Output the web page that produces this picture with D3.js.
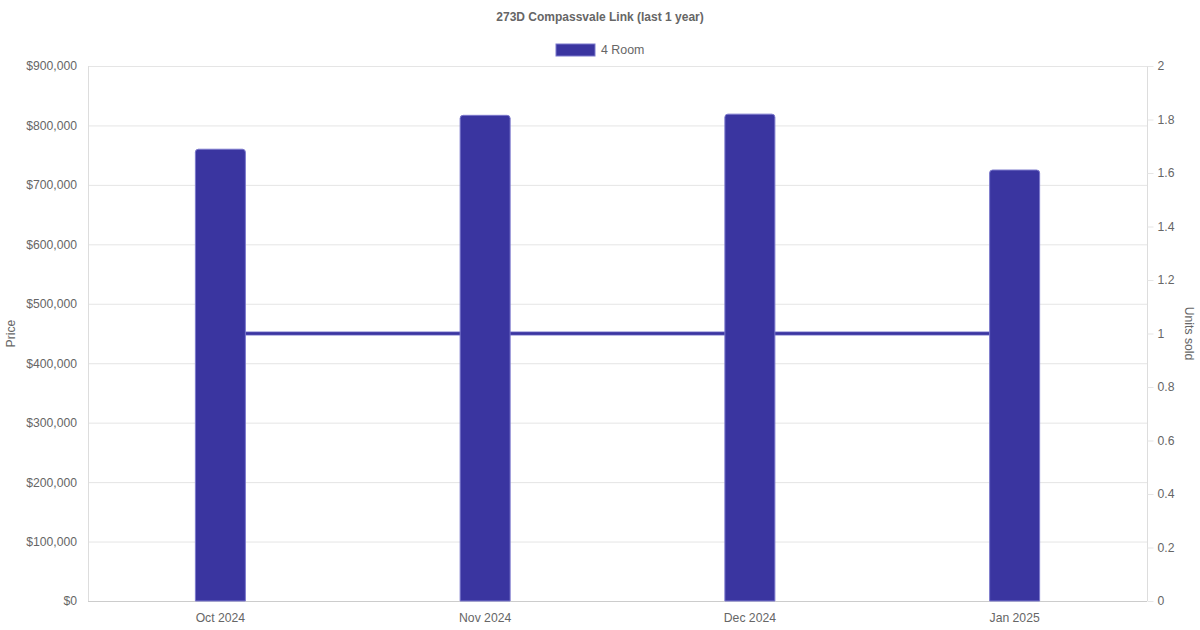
<!DOCTYPE html>
<html><head><meta charset="utf-8">
<script src="https://cdn.jsdelivr.net/npm/d3@7"></script>
<style>body{margin:0;background:#fff}svg{display:block;font-family:"Liberation Sans",Arial,sans-serif}</style>
</head><body>
<svg id="c" width="1200" height="630"></svg>
<script>
const categories = ["Oct 2024","Nov 2024","Dec 2024","Jan 2025"];
const prices = [760000, 817000, 819000, 725000];
const units = [1, 1, 1, 1];
const priceTicks = [0,100000,200000,300000,400000,500000,600000,700000,800000,900000];
const unitTicks = [0,0.2,0.4,0.6,0.8,1,1.2,1.4,1.6,1.8,2];
const seriesName = "4 Room";
const title = "273D Compassvale Link (last 1 year)";

const svg = d3.select("#c");
const L=88, R=1147, T=66, B=601;
const fill="#3a35a0", edge="#7b78cc", txt="#666", grid="#e5e5e5";
const x = d3.scaleBand().domain(categories).range([L,R]);
const y = d3.scaleLinear().domain([0,900000]).range([B,T]);
const y2 = d3.scaleLinear().domain([0,2]).range([B,T]);

// gridlines
svg.append("g").selectAll("line").data(priceTicks).join("line")
  .attr("x1",L).attr("x2",R).attr("y1",d=>y(d)+0.5).attr("y2",d=>y(d)+0.5)
  .attr("stroke",grid).attr("stroke-width",1);

// axes lines
svg.append("line").attr("x1",L+0.5).attr("x2",L+0.5).attr("y1",T).attr("y2",B).attr("stroke","#ddd");
svg.append("line").attr("x1",R+0.5).attr("x2",R+0.5).attr("y1",T).attr("y2",B).attr("stroke","#ddd");
svg.append("line").attr("x1",L).attr("x2",R).attr("y1",B+0.5).attr("y2",B+0.5).attr("stroke","#ccc");

// left axis
const fmt = d=>"$"+d3.format(",")(d);
const ya = d3.axisLeft(y).tickValues(priceTicks).tickFormat(fmt).tickSize(0).tickPadding(11);
const gl = svg.append("g").attr("transform",`translate(${L},0)`).call(ya);
gl.select(".domain").remove();
gl.selectAll("text").attr("fill",txt).attr("font-size",12.2).attr("font-family","Liberation Sans, Arial, sans-serif");

// right axis
const ya2 = d3.axisRight(y2).tickValues(unitTicks).tickFormat(d3.format("~g")).tickSize(6).tickPadding(4);
const gr = svg.append("g").attr("transform",`translate(${R+0.5},0)`).call(ya2);
gr.select(".domain").remove();
gr.selectAll("line").attr("stroke",grid);
gr.selectAll("text").attr("fill",txt).attr("font-size",12.2).attr("font-family","Liberation Sans, Arial, sans-serif");

// bottom axis
const xa = d3.axisBottom(x).tickSize(0).tickPadding(12);
const gb = svg.append("g").attr("transform",`translate(0,${B})`).call(xa);
gb.select(".domain").remove();
gb.selectAll("text").attr("fill",txt).attr("font-size",12.2).attr("font-family","Liberation Sans, Arial, sans-serif");

// line
const line = d3.line().x(d=>x(d.c)+x.bandwidth()/2).y(d=>y2(d.v));
const ld = categories.map((c,i)=>({c,v:units[i]}));
svg.append("path").attr("d",line(ld)).attr("fill","none").attr("stroke",edge).attr("stroke-width",4);
svg.append("path").attr("d",line(ld)).attr("fill","none").attr("stroke",fill).attr("stroke-width",2.4);

// bars
const bw=50;
svg.append("g").selectAll("path").data(categories).join("path")
  .attr("d",(c,i)=>{
    const x0=x(c)+x.bandwidth()/2-bw/2, x1=x0+bw, yt=y(prices[i]), r=3;
    return `M${x0},${B}L${x0},${yt+r}Q${x0},${yt} ${x0+r},${yt}L${x1-r},${yt}Q${x1},${yt} ${x1},${yt+r}L${x1},${B}Z`;
  })
  .attr("fill",fill).attr("stroke",edge).attr("stroke-width",1);

// title
svg.append("text").attr("x",600).attr("y",21).attr("text-anchor","middle")
  .attr("font-size",12).attr("font-weight","bold").attr("fill",txt).text(title);

// legend
svg.append("rect").attr("x",556).attr("y",44).attr("width",39).attr("height",12).attr("fill",fill).attr("stroke",edge);
svg.append("text").attr("x",601).attr("y",54).attr("font-size",12.4).attr("fill",txt).text(seriesName);

// axis titles
svg.append("text").attr("transform",`translate(15,${(T+B)/2}) rotate(-90)`).attr("text-anchor","middle")
  .attr("font-size",12.2).attr("fill",txt).text("Price");
svg.append("text").attr("transform",`translate(1185,${(T+B)/2}) rotate(90)`).attr("text-anchor","middle")
  .attr("font-size",12.2).attr("fill",txt).text("Units sold");
</script>
</body></html>
